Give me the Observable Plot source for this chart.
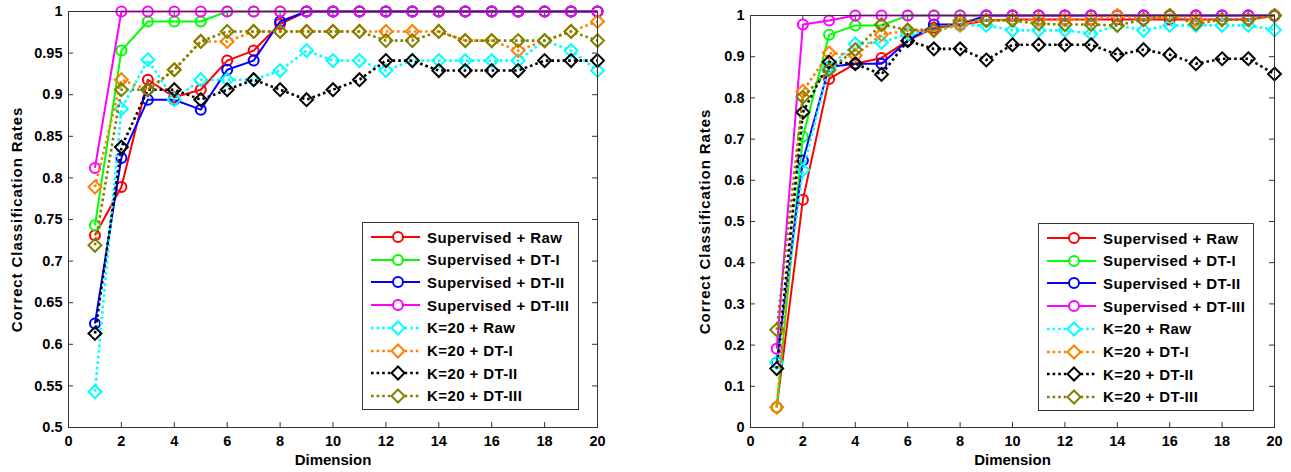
<!DOCTYPE html>
<html>
<head>
<meta charset="utf-8">
<script src="https://cdn.jsdelivr.net/npm/d3@7"></script>
<script src="https://cdn.jsdelivr.net/npm/@observablehq/plot@0.6"></script>
<style>
  html, body { margin: 0; padding: 0; background: #fff; }
  #wrap { position: relative; width: 1291px; height: 472px; overflow: hidden; font-family: "Liberation Sans", Arial, sans-serif; font-weight: bold; }
  .panel { position: absolute; top: 0; }
  .legend { position: absolute; border: 1px solid #333; background: #fff; box-sizing: border-box; }
  .legend .row { position: absolute; left: 0; height: 22px; display: flex; align-items: center; }
  .legend .row svg { display: block; }
  .legend .row span { font-size: 15px; letter-spacing: 0.4px; font-weight: bold; color: #000; margin-left: 4px; white-space: nowrap; }
</style>
</head>
<body>
<div id="wrap"></div>
<script>
// ---------- data ----------
const dimensions = d3.range(1, 21);
const seriesNames = ["Supervised + Raw", "Supervised + DT-I", "Supervised + DT-II", "Supervised + DT-III",
                     "K=20 + Raw", "K=20 + DT-I", "K=20 + DT-II", "K=20 + DT-III"];
const seriesColors = ["#ff0000", "#00ff00", "#0000ff", "#ff00ff", "#00ffff", "#ff8000", "#000000", "#808000"];
const seriesKinds = ["sup", "sup", "sup", "sup", "k", "k", "k", "k"];

// left panel
const leftSupRaw = [0.731, 0.789, 0.918, 0.897, 0.906, 0.941, 0.953, 0.985, 1, 1, 1, 1, 1, 1, 1, 1, 1, 1, 1, 1];
const leftSupDT1 = [0.743, 0.953, 0.988, 0.988, 0.988, 1, 1, 1, 1, 1, 1, 1, 1, 1, 1, 1, 1, 1, 1, 1];
const leftSupDT2 = [0.625, 0.824, 0.894, 0.894, 0.882, 0.930, 0.941, 0.988, 1, 1, 1, 1, 1, 1, 1, 1, 1, 1, 1, 1];
const leftSupDT3 = [0.812, 1, 1, 1, 1, 1, 1, 1, 1, 1, 1, 1, 1, 1, 1, 1, 1, 1, 1, 1];
const leftKRaw = [0.543, 0.883, 0.942, 0.894, 0.918, 0.918, 0.918, 0.929, 0.953, 0.941, 0.941, 0.929, 0.941, 0.941, 0.941, 0.941, 0.941, 0.965, 0.953, 0.929];
const leftKDT1 = [0.789, 0.918, 0.906, 0.930, 0.964, 0.964, 0.976, 0.976, 0.976, 0.976, 0.976, 0.976, 0.976, 0.976, 0.965, 0.965, 0.953, 0.965, 0.976, 0.988];
const leftKDT2 = [0.613, 0.837, 0.906, 0.906, 0.894, 0.906, 0.918, 0.906, 0.894, 0.906, 0.918, 0.941, 0.941, 0.929, 0.929, 0.929, 0.929, 0.941, 0.941, 0.941];
const leftKDT3 = [0.719, 0.906, 0.906, 0.930, 0.964, 0.976, 0.976, 0.976, 0.976, 0.976, 0.976, 0.965, 0.965, 0.976, 0.965, 0.965, 0.965, 0.965, 0.976, 0.965];

// right panel
const rightSupRaw = [0.049, 0.553, 0.846, 0.883, 0.897, 0.939, 0.970, 0.976, 0.988, 0.990, 0.990, 0.990, 0.990, 0.990, 0.990, 0.990, 0.990, 0.990, 0.990, 1];
const rightSupDT1 = [0.049, 0.706, 0.953, 0.976, 0.976, 1, 1, 1, 1, 1, 1, 1, 1, 1, 1, 1, 1, 1, 1, 1];
const rightSupDT2 = [0.158, 0.648, 0.875, 0.883, 0.883, 0.939, 0.978, 0.978, 1, 1, 1, 1, 1, 1, 1, 1, 1, 1, 1, 1];
const rightSupDT3 = [0.191, 0.978, 0.988, 1, 1, 1, 1, 1, 1, 1, 1, 1, 1, 1, 1, 1, 1, 1, 1, 1];
const rightKRaw = [0.158, 0.625, 0.875, 0.931, 0.935, 0.955, 0.963, 0.976, 0.976, 0.964, 0.964, 0.964, 0.956, 0.976, 0.964, 0.976, 0.976, 0.976, 0.976, 0.965];
const rightKDT1 = [0.049, 0.816, 0.909, 0.903, 0.954, 0.963, 0.963, 0.978, 0.988, 0.990, 0.990, 0.990, 0.990, 1, 0.990, 1, 0.990, 0.990, 0.990, 1];
const rightKDT2 = [0.143, 0.765, 0.887, 0.883, 0.857, 0.939, 0.919, 0.919, 0.892, 0.929, 0.929, 0.929, 0.929, 0.905, 0.917, 0.905, 0.883, 0.895, 0.895, 0.858];
const rightKDT3 = [0.237, 0.802, 0.868, 0.917, 0.978, 0.965, 0.965, 0.988, 0.988, 0.988, 0.980, 0.978, 0.978, 0.976, 0.990, 1, 0.980, 0.990, 0.990, 1];

const xTicks = [0, 2, 4, 6, 8, 10, 12, 14, 16, 18, 20];
const yTicksLeft = [0.5, 0.55, 0.6, 0.65, 0.7, 0.75, 0.8, 0.85, 0.9, 0.95, 1];
const yTicksRight = [0, 0.1, 0.2, 0.3, 0.4, 0.5, 0.6, 0.7, 0.8, 0.9, 1];
const xLabel = "Dimension";
const yLabel = "Correct Classification Rates";

const leftSeries = [leftSupRaw, leftSupDT1, leftSupDT2, leftSupDT3, leftKRaw, leftKDT1, leftKDT2, leftKDT3];
const rightSeries = [rightSupRaw, rightSupDT1, rightSupDT2, rightSupDT3, rightKRaw, rightKDT1, rightKDT2, rightKDT3];

// ---------- drawing ----------
function buildMarks(seriesValues) {
  const marks = [];
  seriesValues.forEach((vals, i) => {
    const rows = vals.map((v, j) => ({dim: dimensions[j], rate: v}));
    const sup = seriesKinds[i] === "sup";
    marks.push(Plot.line(rows, {
      x: "dim", y: "rate", stroke: seriesColors[i],
      strokeWidth: sup ? 2 : 2.6,
      strokeDasharray: sup ? null : "2.6,3",
      strokeLinecap: "butt"
    }));
    marks.push(Plot.dot(rows, {
      x: "dim", y: "rate", stroke: seriesColors[i], fill: "none",
      symbol: sup ? "circle" : "diamond2",
      r: sup ? 5 : 5.8, strokeWidth: 2
    }));
  });
  return marks;
}

function panel({width, height, mL, mR, mT, mB, yDomain, yTicks, series, yLabelOffset}) {
  const pw = width - mL - mR, ph = height - mT - mB;
  const svg = Plot.plot({
    width, height,
    marginLeft: mL, marginRight: mR, marginTop: mT, marginBottom: mB,
    style: {fontFamily: "'Liberation Sans', Arial, sans-serif", fontWeight: "bold", fontSize: "14.5px", color: "#000", background: "#fff", overflow: "visible"},
    x: {domain: [0, 20]},
    y: {domain: yDomain},
    marks: [
      // inward tick marks on all four sides
      Plot.ruleY(yTicks, {insetRight: pw - 5, stroke: "#333"}),
      Plot.ruleY(yTicks, {insetLeft: pw - 5, stroke: "#333"}),
      Plot.ruleX(xTicks, {insetTop: ph - 5, stroke: "#333"}),
      Plot.ruleX(xTicks, {insetBottom: ph - 5, stroke: "#333"}),
      Plot.axisX({ticks: xTicks, tickSize: 0, tickPadding: 8, fontSize: 14.5, label: xLabel, labelAnchor: "center", labelArrow: "none", labelOffset: 37, fill: "#000"}),
      Plot.axisY({ticks: yTicks, tickSize: 0, tickPadding: 6, fontSize: 14.5, tickFormat: d => String(d), label: yLabel, labelAnchor: "center", labelArrow: "none", labelOffset: yLabelOffset, fill: "#000"}),
      ...buildMarks(series),
      Plot.frame({stroke: "#333", strokeWidth: 1})
    ]
  });
  // axis-title typography
  svg.querySelectorAll('[aria-label="x-axis label"] text, [aria-label="x-axis label"]').forEach(el => {
    el.style.fontSize = "15px";
  });
  svg.querySelectorAll('[aria-label="y-axis label"] text, [aria-label="y-axis label"]').forEach(el => {
    el.style.fontSize = "15px";
    el.style.letterSpacing = "0.9px";
  });
  return svg;
}

const wrap = document.getElementById("wrap");

const left = panel({width: 645, height: 472, mL: 68, mR: 48, mT: 11, mB: 45,
  yDomain: [0.5, 1], yTicks: yTicksLeft, series: leftSeries, yLabelOffset: 57});
left.classList.add("panel");
left.style.left = "0px";
wrap.appendChild(left);

const right = panel({width: 646, height: 472, mL: 105, mR: 17, mT: 15, mB: 45,
  yDomain: [0, 1], yTicks: yTicksRight, series: rightSeries, yLabelOffset: 51});
right.classList.add("panel");
right.style.left = "645px";
wrap.appendChild(right);

// ---------- legends ----------
function legend(x, y, w, h) {
  const box = document.createElement("div");
  box.className = "legend";
  Object.assign(box.style, {left: x + "px", top: y + "px", width: w + "px", height: h + "px"});
  seriesNames.forEach((name, i) => {
    const row = document.createElement("div");
    row.className = "row";
    row.style.top = (3 + i * 22.7) + "px";
    const sup = seriesKinds[i] === "sup";
    const ns = "http://www.w3.org/2000/svg";
    const s = document.createElementNS(ns, "svg");
    s.setAttribute("width", 60); s.setAttribute("height", 22);
    const ln = document.createElementNS(ns, "line");
    ln.setAttribute("x1", 8); ln.setAttribute("x2", 57); ln.setAttribute("y1", 11); ln.setAttribute("y2", 11);
    ln.setAttribute("stroke", seriesColors[i]);
    ln.setAttribute("stroke-width", sup ? 2 : 2.6);
    if (!sup) ln.setAttribute("stroke-dasharray", "2.6,3");
    s.appendChild(ln);
    let mk;
    if (sup) {
      mk = document.createElementNS(ns, "circle");
      mk.setAttribute("cx", 35); mk.setAttribute("cy", 11); mk.setAttribute("r", 5);
    } else {
      mk = document.createElementNS(ns, "path");
      mk.setAttribute("d", "M35,4.5L41.5,11L35,17.5L28.5,11Z");
    }
    mk.setAttribute("fill", "#fff");
    mk.setAttribute("stroke", seriesColors[i]);
    mk.setAttribute("stroke-width", 2);
    s.appendChild(mk);
    row.appendChild(s);
    const t = document.createElement("span");
    t.textContent = name;
    row.appendChild(t);
    box.appendChild(row);
  });
  wrap.appendChild(box);
}
legend(362, 222, 217, 188);
legend(1038, 223, 216, 188);
</script>
</body>
</html>
